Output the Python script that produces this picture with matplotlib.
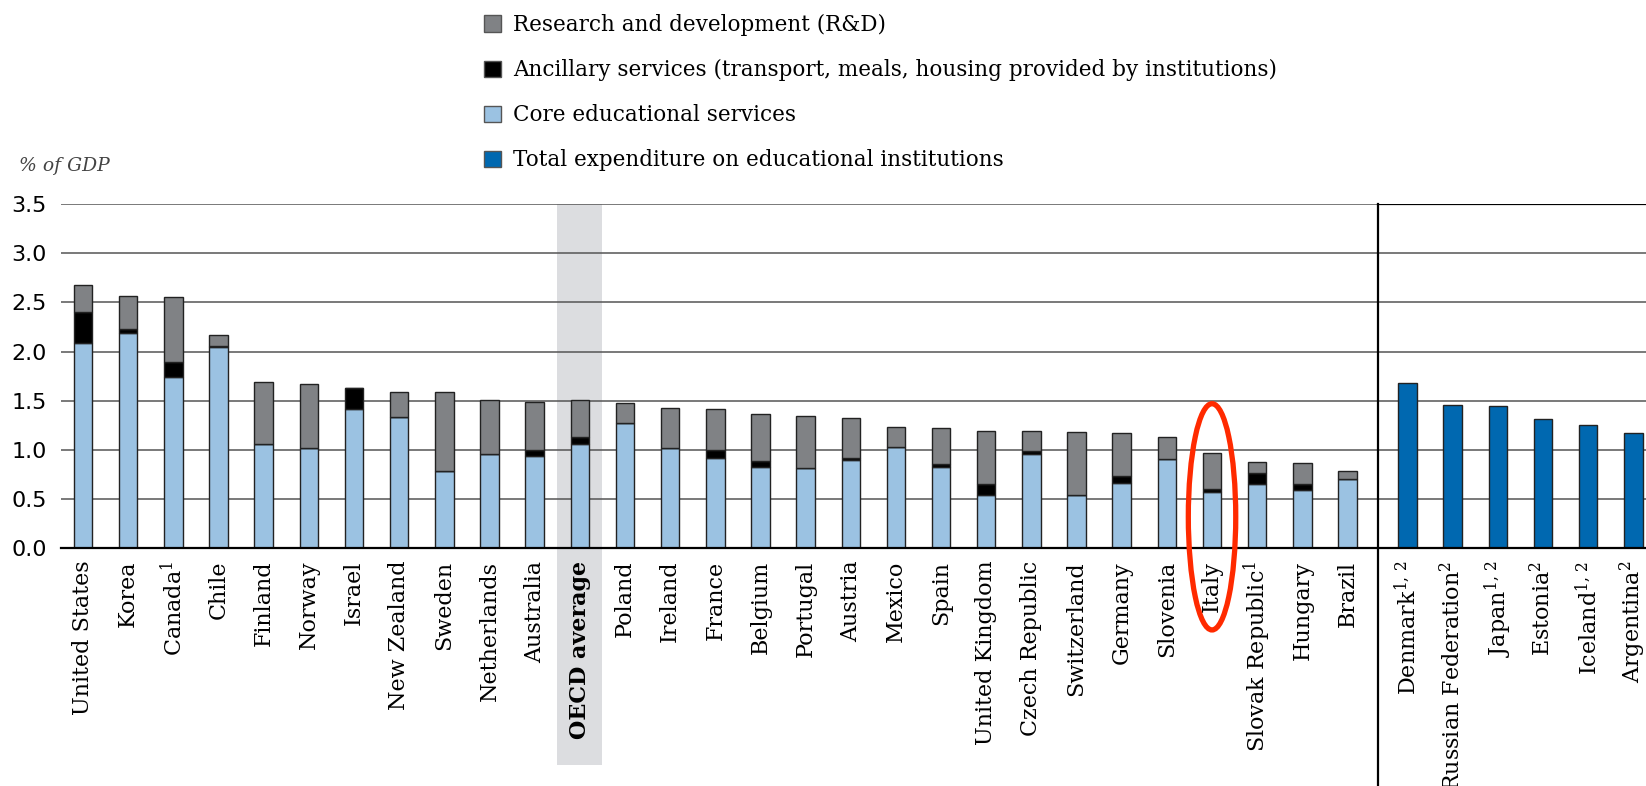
#!/usr/bin/env python3

import matplotlib
matplotlib.use('Agg')
import matplotlib.pyplot as plt
from matplotlib.patches import Patch, Ellipse

SET_DPI = 100
FIGSIZE = (16.46, 7.86)

COL_RD = '#808285'
COL_ANC = '#000000'
COL_CORE = '#9bc2e2'
COL_TOTAL = '#0068b0'
EDGE = '#222222'

# Countries with breakdown (left panel)
countries = ['United States', 'Korea', r'Canada$^{1}$', 'Chile', 'Finland', 'Norway',
             'Israel', 'New Zealand', 'Sweden', 'Netherlands', 'Australia',
             'OECD average', 'Poland', 'Ireland', 'France', 'Belgium', 'Portugal',
             'Austria', 'Mexico', 'Spain', 'United Kingdom', 'Czech Republic',
             'Switzerland', 'Germany', 'Slovenia', 'Italy', r'Slovak Republic$^{1}$',
             'Hungary', 'Brazil']
core = [2.09, 2.19, 1.74, 2.05, 1.06, 1.02, 1.42, 1.33, 0.79, 0.96, 0.94,
        1.06, 1.27, 1.02, 0.92, 0.83, 0.82, 0.90, 1.03, 0.83, 0.54, 0.96,
        0.54, 0.66, 0.91, 0.57, 0.65, 0.59, 0.70]
ancillary = [0.31, 0.04, 0.15, 0.01, 0.0, 0.0, 0.21, 0.0, 0.0, 0.0, 0.06,
             0.07, 0.0, 0.0, 0.08, 0.06, 0.0, 0.02, 0.0, 0.03, 0.11, 0.03,
             0.0, 0.07, 0.0, 0.03, 0.12, 0.06, 0.0]
rd = [0.28, 0.33, 0.66, 0.11, 0.63, 0.65, 0.0, 0.26, 0.80, 0.55, 0.49,
      0.38, 0.21, 0.41, 0.42, 0.48, 0.52, 0.40, 0.20, 0.36, 0.54, 0.20,
      0.64, 0.44, 0.22, 0.37, 0.11, 0.22, 0.09]

# Countries with total only (right panel)
countries_total = [r'Denmark$^{1,\,2}$', r'Russian Federation$^{2}$', r'Japan$^{1,\,2}$',
                   r'Estonia$^{2}$', r'Iceland$^{1,\,2}$', r'Argentina$^{2}$']
total = [1.68, 1.46, 1.45, 1.31, 1.25, 1.17]

plt.rcParams['mathtext.fontset'] = 'custom'
plt.rcParams['mathtext.rm'] = 'DejaVu Serif'
plt.rcParams['mathtext.it'] = 'DejaVu Serif:italic'
plt.rcParams['mathtext.bf'] = 'DejaVu Serif:bold'

fig = plt.figure(figsize=FIGSIZE, dpi=SET_DPI)
ax = fig.add_axes([60.5 / 1646, 237.7 / 786, 1 - 60.5 / 1646, 344.3 / 786])

n_left = len(countries)
x_left = list(range(n_left))
gap = 0.33
x_right = [n_left + gap + i for i in range(len(total))]
sep = (x_left[-1] + x_right[0]) / 2
width = 0.41

# OECD average shading
i_oecd = countries.index('OECD average')
ax.axvspan(i_oecd - 0.5, i_oecd + 0.5, ymin=-0.63, ymax=1, color='#dcdde0',
           clip_on=False, zorder=0, lw=0)

bottom2 = [c + a for c, a in zip(core, ancillary)]
ax.bar(x_left, core, width, color=COL_CORE, edgecolor=EDGE, linewidth=1, zorder=3)
ax.bar(x_left, ancillary, width, bottom=core, color=COL_ANC, edgecolor=EDGE,
       linewidth=1, zorder=3)
ax.bar(x_left, rd, width, bottom=bottom2, color=COL_RD, edgecolor=EDGE,
       linewidth=1, zorder=3)
ax.bar(x_right, total, width, color=COL_TOTAL, edgecolor=EDGE, linewidth=1, zorder=3)

ax.set_xlim(-0.5, 34.61)
ax.set_ylim(0, 3.5)
ax.set_yticks([0, 0.5, 1.0, 1.5, 2.0, 2.5, 3.0, 3.5])
ax.set_yticklabels(['0.0', '0.5', '1.0', '1.5', '2.0', '2.5', '3.0', '3.5'],
                   fontsize=16, family='DejaVu Sans')
ax.yaxis.grid(True, color='#555555', linewidth=1.1, zorder=1)
ax.set_axisbelow(True)
for s in ['top', 'right', 'left']:
    ax.spines[s].set_visible(False)
ax.spines['bottom'].set_linewidth(1.6)
ax.spines['bottom'].set_color('black')
ax.spines['bottom'].set_zorder(4)
ax.tick_params(axis='both', length=0)
ax.tick_params(axis='y', pad=10)
ax.tick_params(axis='x', pad=9)

ax.set_xticks(x_left + x_right)
ax.set_xticklabels(countries + countries_total, rotation=90, fontsize=16,
                   family='DejaVu Serif', va='top', ha='center')
for lab in ax.get_xticklabels():
    if lab.get_text() == 'OECD average':
        lab.set_fontweight('bold')

# separator and frame of the right panel
ax.axvline(sep, ymin=-0.7, ymax=1, color='black', linewidth=1.6, clip_on=False, zorder=4)
ax.axhline(3.5, xmin=(sep + 0.5) / 35.11, xmax=1, color='black', linewidth=1.6, zorder=4)

# Italy highlight
ax.add_patch(Ellipse((countries.index('Italy'), 0.32), 1.05, 2.30, fill=False,
                     edgecolor='#ff2a00', linewidth=3.8, clip_on=False, zorder=5))

fig.text(19 / 1646, 1 - 166 / 786, '% of GDP', fontsize=13.5, style='italic',
         family='DejaVu Serif', color='#444444', va='center', ha='left')

handles = [Patch(facecolor=COL_RD, edgecolor='#555555'),
           Patch(facecolor=COL_ANC, edgecolor='#555555'),
           Patch(facecolor=COL_CORE, edgecolor='#555555'),
           Patch(facecolor=COL_TOTAL, edgecolor='#555555')]
labels = ['Research and development (R&D)',
          'Ancillary services (transport, meals, housing provided by institutions)',
          'Core educational services',
          'Total expenditure on educational institutions']
fig.legend(handles, labels, loc='upper left', bbox_to_anchor=(484 / 1646, 1 - 14 / 786),
           frameon=False, prop={'family': 'DejaVu Serif', 'size': 15.5},
           handlelength=0.8, handleheight=0.8, handletextpad=0.55,
           labelspacing=1.07, borderaxespad=0, borderpad=0)

fig.savefig('out.png', dpi=SET_DPI)
plt.close('all')
